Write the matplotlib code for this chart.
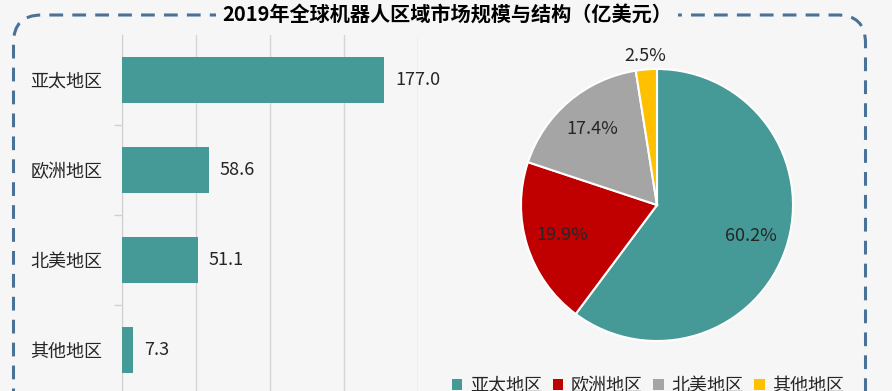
import numpy as np
import matplotlib
matplotlib.use('Agg')
import matplotlib.pyplot as plt
from matplotlib.patches import FancyBboxPatch, Patch

plt.rcParams['font.family'] = ['Noto Sans CJK SC', 'DejaVu Sans']

# Dati
regioni = ['亚太地区', '欧洲地区', '北美地区', '其他地区']
valori = [177.0, 58.6, 51.1, 7.3]
quote = [60.2, 19.9, 17.4, 2.5]
colori_torta = ['#459A97', '#C00000', '#A5A5A5', '#FFC000']
titolo = '2019年全球机器人区域市场规模与结构（亿美元）'

sfondo = '#F6F6F6'
testo = '#262626'

W, H = 892, 391
fig = plt.figure(figsize=(W / 100, H / 100), dpi=100, facecolor=sfondo)

# Cornice tratteggiata arrotondata
cornice = FancyBboxPatch((0.135, -0.4), 8.52, 4.16,
                         boxstyle='round,pad=0,rounding_size=0.28',
                         transform=fig.dpi_scale_trans, fill=False,
                         edgecolor='#4A7196', linewidth=2.2,
                         linestyle=(0, (4.5, 3)))
fig.patches.append(cornice)

fig.text(447 / W, 1 - 15 / H, titolo, ha='center', va='center',
         fontsize=14.5, fontweight='bold', color='black',
         bbox=dict(facecolor=sfondo, edgecolor='none', pad=4))

# Grafico a barre
ax = fig.add_axes([122 / W, (H - 395) / H, (418 - 122) / W, 360 / H])
ax.set_facecolor('none')
pos = np.arange(len(regioni))
ax.barh(pos, valori, height=0.51, color='#459A97', zorder=3)
for p, v in zip(pos, valori):
    ax.annotate(f'{v:.1f}', (v, p), xytext=(8, 0), textcoords='offset points',
                ha='left', va='center', fontsize=13, color=testo,
                annotation_clip=False)
ax.set_xlim(0, 200)
ax.set_ylim(len(regioni) - 0.5, -0.5)
ax.set_xticks([0, 50, 100, 150, 200])
ax.xaxis.grid(True, color='#D6D6D6', linewidth=1)
ax.tick_params(axis='x', length=0, labelbottom=False)
ax.set_yticks(pos)
ax.set_yticklabels(regioni, fontsize=13, color=testo)
ax.tick_params(axis='y', which='major', length=0, pad=14)
ax.set_yticks(pos[:-1] + 0.5, minor=True)
ax.tick_params(axis='y', which='minor', length=6, color='#D0D0D0', width=1)
for s in ['top', 'right', 'bottom']:
    ax.spines[s].set_visible(False)
ax.spines['left'].set_color('#D0D0D0')

# Grafico a torta
cx, cy, r = 657, 205, 136
ax2 = fig.add_axes([(cx - r) / W, (H - cy - r) / H, 2 * r / W, 2 * r / H])
spicchi, _, etichette = ax2.pie(quote, colors=colori_torta, startangle=90,
                                counterclock=False, radius=1,
                                autopct=lambda p: f'{p:.1f}%', pctdistance=0.73,
                                wedgeprops=dict(edgecolor='white', linewidth=1.5),
                                textprops=dict(fontsize=13, color=testo))
# etichetta piccola fuori dalla torta
w = spicchi[-1]
ang = np.deg2rad((w.theta1 + w.theta2) / 2)
etichette[-1].set_position((1.1 * np.cos(ang), 1.1 * np.sin(ang)))
ax2.set_xlim(-1, 1)
ax2.set_ylim(-1, 1)
ax2.set_aspect('equal')
ax2.axis('off')

# Legenda
maniglie = [Patch(facecolor=c, edgecolor='none') for c in colori_torta]
fig.legend(maniglie, regioni, loc='center', bbox_to_anchor=(648 / W, (H - 386) / H),
           ncol=4, frameon=False, fontsize=13, handlelength=0.6, handleheight=0.6,
           handletextpad=0.4, columnspacing=0.6, labelcolor=testo)

fig.savefig('out.png', dpi=100, facecolor=sfondo)
